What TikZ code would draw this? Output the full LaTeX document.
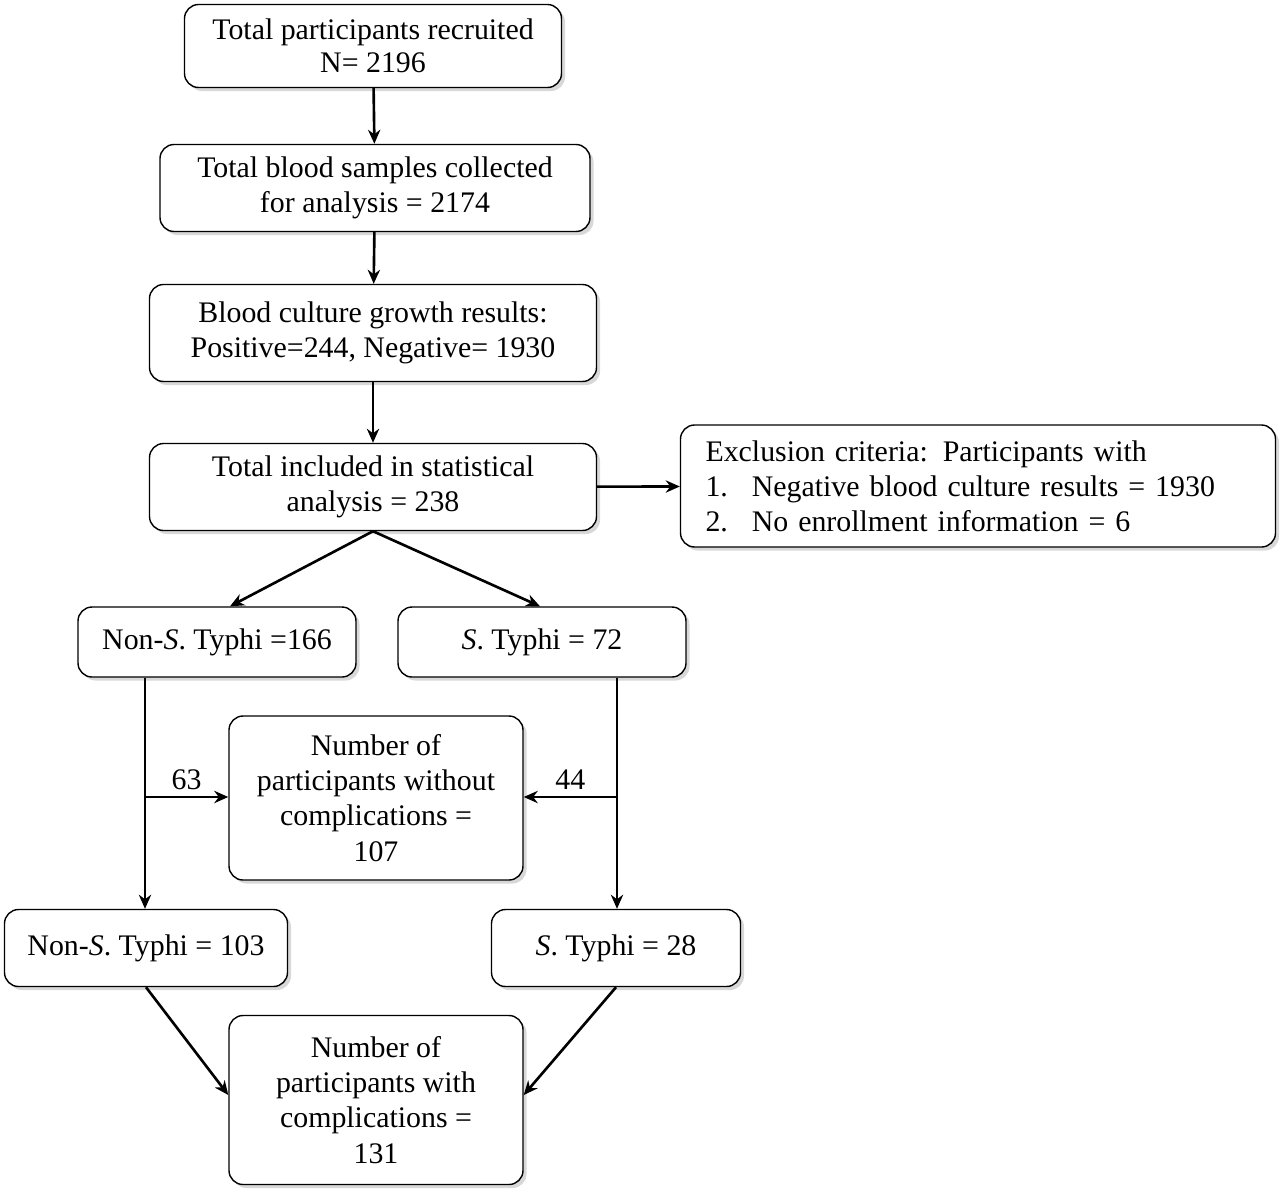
\documentclass[tikz,border=0pt]{standalone}
\usepackage{fontspec}
\setmainfont{Liberation Serif}
\usetikzlibrary{shadows,arrows.meta}
\begin{document}
\begin{tikzpicture}[x=0.02cm,y=-0.02cm,
 box/.style={draw,rounded corners=8pt,fill=white,line width=0.8pt,align=center,inner sep=0pt,
   drop shadow={shadow xshift=2pt,shadow yshift=-2pt,fill=gray!60},font=\fontsize{17}{20}\selectfont},
 arr/.style={-{Stealth[length=8pt,width=7pt]},line width=1.5pt},
 lab/.style={font=\fontsize{17}{20}\selectfont}]
\useasboundingbox (0,0) rectangle (1280,1194);
\node[box,minimum width=377*0.02cm,minimum height=83*0.02cm,font=\fontsize{17}{18.5}\selectfont] (b1) at (373,46) {Total participants recruited\\N= 2196};
\node[box,minimum width=430*0.02cm,minimum height=87*0.02cm] (b2) at (375,188) {Total blood samples collected\\for analysis = 2174};
\node[box,minimum width=447*0.02cm,minimum height=97*0.02cm] (b3) at (373,333) {Blood culture growth results:\\Positive=244, Negative= 1930};
\node[box,minimum width=447*0.02cm,minimum height=87*0.02cm] (b4) at (373,487) {Total included in statistical\\analysis = 238};
\node[box,minimum width=595*0.02cm,minimum height=122*0.02cm,text width=545*0.02cm,align=left] (ex) at (978,486) {\raggedright Exclusion criteria: Participants with\\1.\hspace{0.8em}Negative blood culture results = 1930\\2.\hspace{0.8em}No enrollment information = 6};
\node[box,minimum width=278*0.02cm,minimum height=70*0.02cm] (b5) at (217,642) {Non-\textit{S}. Typhi =166};
\node[box,minimum width=288*0.02cm,minimum height=70*0.02cm] (b6) at (542,642) {\textit{S}. Typhi = 72};
\node[box,minimum width=294*0.02cm,minimum height=164*0.02cm] (b7) at (376,798) {Number of\\participants without\\complications =\\107};
\node[box,minimum width=283*0.02cm,minimum height=77*0.02cm] (b8) at (146,948) {Non-\textit{S}. Typhi = 103};
\node[box,minimum width=249*0.02cm,minimum height=77*0.02cm] (b9) at (616,948) {\textit{S}. Typhi = 28};
\node[box,minimum width=294*0.02cm,minimum height=169*0.02cm] (b10) at (376,1100) {Number of\\participants with\\complications =\\131};
\draw[arr] (b1) -- (b2);
\draw[arr] (b2) -- (b3);
\draw[arr] (b3) -- (b4);
\draw[arr] (b4) -- (ex);
\draw[arr] (b4.south) -- (b5.north -| 230,0);
\draw[arr] (b4.south) -- (b6.north -| 540,0);
\coordinate (l1) at (145,797);
\coordinate (r1) at (617,797);
\draw[arr] (b5.south -| l1) -- (b8.north -| l1);
\draw[arr] (b6.south -| r1) -- (b9.north -| r1);
\draw[arr] (l1) -- node[above,lab]{63} (b7.west |- l1);
\draw[arr] (r1) -- node[above,lab]{44} (b7.east |- r1);
\draw[arr] (b8.south) -- (b10.west |- 0,1095);
\draw[arr] (b9.south) -- (b10.east |- 0,1095);
\end{tikzpicture}
\end{document}
